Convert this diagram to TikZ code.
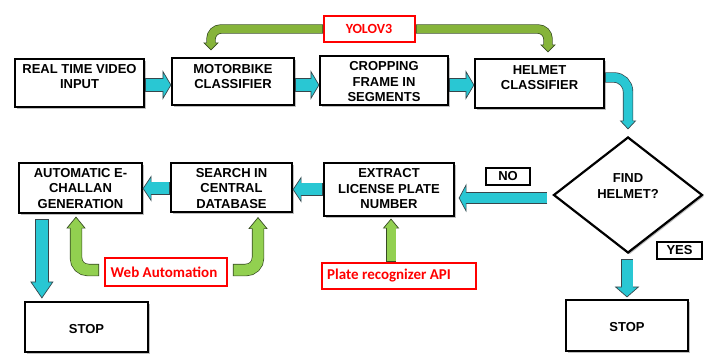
\documentclass[tikz,border=0pt]{standalone}
\usepackage{fontspec}
\setmainfont{Liberation Sans}
\newfontfamily\calfont{Carlito}
\usetikzlibrary{calc,shadows,shapes.geometric}

\definecolor{cyanfill}{RGB}{41,199,211}
\definecolor{cyanline}{RGB}{55,70,75}
\definecolor{greenfill}{RGB}{146,208,80}
\definecolor{greenline}{RGB}{55,75,35}
\definecolor{yolofill}{RGB}{134,180,58}
\definecolor{redc}{RGB}{255,0,0}

% #1 fill, #2 outline, #3 shaft width, #4 head length, #5 head half-width,
% #6 path, #7 tip coordinate, #8 dx, #9 dy (unit direction, y downwards)
\newcommand\fatarrow[9]{%
  \pgfmathsetmacro\fatow{#3+1.4}%
  \pgfmathsetmacro\fatsh{#4-1}%
  \draw[#2, line width=\fatow pt, shorten >=#4pt] #6;
  \filldraw[fill=#1, draw=#2, line width=0.7pt, line join=miter]
    ($(#7)+({-#4*(#8)-#5*(#9)},{-#4*(#9)+#5*(#8)})$) -- (#7) --
    ($(#7)+({-#4*(#8)+#5*(#9)},{-#4*(#9)-#5*(#8)})$) -- cycle;
  \draw[#1, line width=#3pt, shorten <=0.7pt, shorten >=\fatsh pt] #6;
}

\tikzset{
  box/.style={draw=black, line width=2.2pt, fill=white, inner sep=0pt,
    drop shadow={shadow xshift=1.6pt, shadow yshift=-1.6pt, fill=black, opacity=0.25}},
  txt/.style={font=\bfseries\fontsize{13}{15.5}\selectfont, align=center, inner sep=0pt},
  redbox/.style={draw=redc, line width=1.8pt, fill=white, inner sep=0pt},
  redtxt/.style={text=redc, font=\calfont\bfseries\fontsize{15}{18}\selectfont, inner sep=0pt},
  tagbox/.style={draw=black, line width=1.1pt, fill=white, inner sep=0pt,
    font=\bfseries\fontsize{13}{15}\selectfont},
}

\begin{document}
\begin{tikzpicture}[x=1pt,y=-1pt]
\fill[white] (0,0) rectangle (708,355);
\useasboundingbox (0,0) rectangle (708,355);

% boxes
\node[box, minimum width=129pt, minimum height=48pt] (rt) at (79.5,83) {};
\node[box, minimum width=122pt, minimum height=47pt] (mb) at (233,81.5) {};
\node[box, minimum width=128pt, minimum height=49pt] (cf) at (384,80.5) {};
\node[box, minimum width=129pt, minimum height=49pt] (hc) at (539.5,83.5) {};
\node[box, diamond, minimum width=149pt, minimum height=116pt] (dm) at (628,195) {};
\node[box, minimum width=130pt, minimum height=53pt] (ex) at (389,189.5) {};
\node[box, minimum width=121pt, minimum height=49pt] (sc) at (231.5,187.5) {};
\node[box, minimum width=123pt, minimum height=50pt] (ac) at (80.5,188) {};
\node[box, minimum width=123pt, minimum height=50pt] (st1) at (86.5,327) {};
\node[box, minimum width=122pt, minimum height=51pt] (st2) at (627,325.5) {};

% box texts
\node[txt] (trt) at (79.5,76.5) {REAL TIME VIDEO\\INPUT};
\node[txt] (tmb) at (233,76.5) {MOTORBIKE\\CLASSIFIER};
\node[txt] (tcf) at (384,82) {CROPPING\\FRAME IN\\SEGMENTS};
\node[txt] (thc) at (539.5,77.5) {HELMET\\CLASSIFIER};
\node[txt] (tdm) at (628,186) {FIND\\HELMET?};
\node[txt] (tex) at (389,189) {EXTRACT\\LICENSE PLATE\\NUMBER};
\node[txt] (tsc) at (231.5,188.5) {SEARCH IN\\CENTRAL\\DATABASE};
\node[txt] (tac) at (80.5,188.5) {AUTOMATIC E-\\CHALLAN\\GENERATION};
\node[txt] (tst1) at (86.5,329) {STOP};
\node[txt] (tst2) at (627,327) {STOP};

% red boxes
\node[redbox, minimum width=91pt, minimum height=26pt] (yolo) at (369.5,29) {};
\node[redtxt, font=\calfont\bfseries\fontsize{14}{17}\selectfont] (tyolo) at (369,29) {YOLOV3};
\node[redbox, minimum width=122pt, minimum height=28pt] (wa) at (166,272) {};
\node[redtxt] (twa) at (164,272) {Web Automation};
\node[redbox, minimum width=154pt, minimum height=26pt] (pr) at (399,276) {};
\node[redtxt, anchor=west] (tpr) at (327,276) {Plate recognizer API};

% tags
\node[tagbox, minimum width=44pt, minimum height=17pt] (no) at (508,176.5) {NO};
\node[tagbox, minimum width=45pt, minimum height=17pt] (yes) at (679.5,250.5) {YES};

% coordinates
\coordinate (a1s) at ($(rt.east)+(0,2)$);
\coordinate (a1t) at (a1s -| mb.west);
\coordinate (a2s) at ($(mb.east)+(0,3.5)$);
\coordinate (a2t) at (a2s -| cf.west);
\coordinate (a3s) at ($(cf.east)+(0,4.5)$);
\coordinate (a3t) at (a3s -| hc.west);
\coordinate (a4s) at ($(hc.east)+(0,-6)$);
\coordinate (a4c) at (a4s -| dm.north);
\coordinate (a4t) at ($(dm.north)+(0,-7)$);
\coordinate (a5s) at ($(dm.west)+(-5,3)$);
\coordinate (a5x) at (a5s -| ex.east);
\coordinate (a5t) at ($(a5x)+(4,0)$);
\coordinate (a6s) at (ex.west);
\coordinate (a6t) at (a6s -| sc.east);
\coordinate (a7s) at ($(sc.west)+(0,1)$);
\coordinate (a7t) at (a7s -| ac.east);
\coordinate (a8s) at ($(ac.south west)+(24,5)$);
\coordinate (a8x) at (a8s |- st1.north);
\coordinate (a8t) at ($(a8x)+(0,-3)$);
\coordinate (a9t) at ($(st2.north)+(0,-2)$);
\coordinate (a9x) at (a9t |- dm.south);
\coordinate (a9s) at ($(a9x)+(0,5)$);
\coordinate (a10t) at ($(ex.south)+(2,2)$);
\coordinate (a10s) at (a10t |- pr.north);
\coordinate (a11s) at ($(wa.west)+(-5,-2)$);
\coordinate (a11t) at ($(ac.south)+(-4.5,3)$);
\coordinate (a12s) at ($(wa.east)+(5,-2)$);
\coordinate (a12t) at ($(sc.south)+(26.5,4.5)$);
\coordinate (a13s) at (yolo.west);
\coordinate (a13t) at ($(mb.north)+(-22,-7)$);
\coordinate (a14s) at (yolo.east);
\coordinate (a14t) at ($(hc.north)+(8.5,-6)$);

% cyan arrows
\fatarrow{cyanfill}{cyanline}{12}{8}{13.5}{(a1s) -- (a1t)}{a1t}{1}{0}
\fatarrow{cyanfill}{cyanline}{12}{8}{13.5}{(a2s) -- (a2t)}{a2t}{1}{0}
\fatarrow{cyanfill}{cyanline}{12}{8}{13.5}{(a3s) -- (a3t)}{a3t}{1}{0}
\fatarrow{cyanfill}{cyanline}{9}{8}{7.5}{(a4s) [rounded corners=14pt] -- (a4c) -- (a4t)}{a4t}{0}{1}
\fatarrow{cyanfill}{cyanline}{10.5}{7}{13}{(a5s) -- (a5t)}{a5t}{-1}{0}
\fatarrow{cyanfill}{cyanline}{12}{8}{12}{(a6s) -- (a6t)}{a6t}{-1}{0}
\fatarrow{cyanfill}{cyanline}{12}{8}{12}{(a7s) -- (a7t)}{a7t}{-1}{0}
\fatarrow{cyanfill}{cyanline}{12}{16}{11}{(a8s) -- (a8t)}{a8t}{0}{1}
\fatarrow{cyanfill}{cyanline}{11}{10}{11.5}{(a9s) -- (a9t)}{a9t}{0}{1}

% green arrows
\fatarrow{greenfill}{greenline}{9}{9}{7.5}{(a10s) -- (a10t)}{a10t}{0}{-1}
\fatarrow{greenfill}{greenline}{11}{11}{9}{(a11s) [rounded corners=12pt] -- (a11t |- a11s) -- (a11t)}{a11t}{0}{-1}
\fatarrow{greenfill}{greenline}{11}{11}{9}{(a12s) [rounded corners=12pt] -- (a12t |- a12s) -- (a12t)}{a12t}{0}{-1}
\fatarrow{yolofill}{greenline}{8}{7}{7}{(a13s) [rounded corners=10pt] -- (a13t |- a13s) -- (a13t)}{a13t}{0}{1}
\fatarrow{yolofill}{greenline}{8}{7}{7}{(a14s) [rounded corners=10pt] -- (a14t |- a14s) -- (a14t)}{a14t}{0}{1}
\end{tikzpicture}
\end{document}
